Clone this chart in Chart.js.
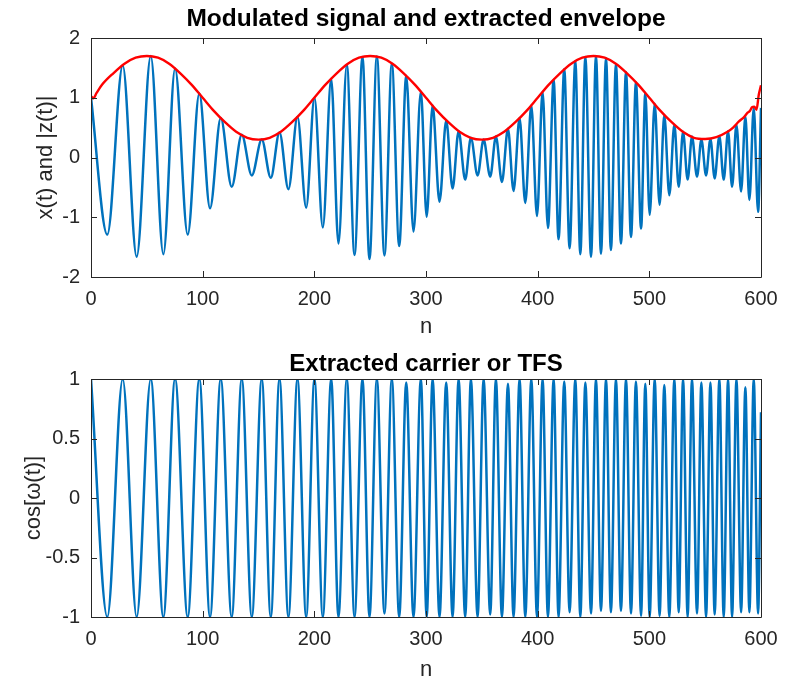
<!DOCTYPE html>
<html>
<head>
<meta charset="utf-8">
<script src="https://cdn.jsdelivr.net/npm/chart.js@4.4.1/dist/chart.umd.min.js"></script>
<style>
  html, body { margin: 0; padding: 0; background: #fff; }
  body { width: 795px; height: 679px; position: relative; overflow: hidden; }
  .panel { position: absolute; left: 0; }
</style>
</head>
<body>
<div class="panel" style="top:0"><canvas id="topChart" width="795" height="340"></canvas></div>
<div class="panel" style="top:340px"><canvas id="botChart" width="795" height="339"></canvas></div>
<script>
// ----- Data -----
// sample positions (n) of the carrier's peaks and troughs, in order, plus the last sample
const extremaN = [
  0, 14.6, 28.4, 40.9, 53.5, 64.8, 75.3, 86.6, 97, 106.6,
  116.2, 126, 135, 144, 152.9, 161, 168.8, 176.8, 184.9, 192.7,
  200.1, 207.6, 215.1, 221.6, 229.1, 236, 243.1, 249.4, 256, 262.8,
  269.4, 276, 282.3, 288.8, 295.4, 300.6, 305.9, 312.1, 318.1, 323.8,
  329.2, 335.1, 340.2, 346.2, 351.6, 357.5, 362.6, 368, 373.4, 378.4,
  383.8, 388.9, 394.3, 399.4, 404.4, 409.2, 414.3, 418.7, 423.8, 428.6,
  433.7, 438.2, 442.7, 447.8, 452.2, 456.7, 461.2, 465.6, 470.1, 474.6,
  479.1, 483.6, 488, 492.6, 496.4, 500.3, 504.8, 509.2, 513.4, 517.9,
  522.4, 526.3, 530.2, 534.3, 538.2, 542.7, 546.6, 550.8, 554.7, 558.5,
  562.7, 566.6, 570.5, 574.1, 578, 582.2, 586, 589.6, 593.5, 597.4,
  600
];
// x(t) at those positions (top panel)
const signalVal = [
  1.00, -1.29, 1.54, -1.66, 1.70, -1.62, 1.49, -1.29, 1.07, -0.85,
  0.66, -0.49, 0.38, -0.30, 0.30, -0.34, 0.42, -0.53, 0.68, -0.84,
  1.00, -1.17, 1.32, -1.44, 1.55, -1.63, 1.68, -1.70, 1.69, -1.64,
  1.57, -1.48, 1.37, -1.24, 1.10, -0.99, 0.87, -0.74, 0.62, -0.52,
  0.44, -0.37, 0.33, -0.30, 0.30, -0.32, 0.35, -0.41, 0.48, -0.56,
  0.66, -0.76, 0.87, -0.98, 1.10, -1.18, 1.30, -1.37, 1.48, -1.52,
  1.61, -1.62, 1.68, -1.66, 1.70, -1.61, 1.66, -1.55, 1.56, -1.44,
  1.43, -1.33, 1.26, -1.19, 1.08, -0.96, 0.90, -0.79, 0.71, -0.63,
  0.55, -0.49, 0.43, -0.37, 0.35, -0.32, 0.30, -0.30, 0.31, -0.35,
  0.36, -0.37, 0.44, -0.49, 0.55, -0.57, 0.69, -0.71, 0.83, -0.91,
  0.83
];
// cos[w(t)] at those positions (bottom panel)
const carrierVal = [
  1, -1, 1, -1, 1, -1, 1, -1, 1, -1,
  1, -1, 1, -1, 1, -1, 1, -1, 1, -1,
  1, -1, 1, -1, 1, -1, 1, -1, 1, -0.97,
  1, -1, 0.97, -1, 1, -1, 1, -1, 0.97, -1,
  1, -1, 1, -1, 1, -0.98, 1, -1, 0.96, -1,
  1, -1, 1, -1, 1, -1, 1, -1, 0.98, -0.96,
  1, -1, 0.97, -0.97, 1, -0.95, 1, -0.96, 1, -0.95,
  1, -0.97, 0.98, -0.99, 0.96, -1, 1, -0.99, 0.95, -1,
  1, -0.96, 1, -1, 1, -0.97, 0.97, -1, 0.97, -0.98,
  1, -1, 1, -1, 1, -0.96, 0.93, -0.96, 1, -0.97,
  0.72
];
// extracted envelope |z(t)|
const envN = [
  0, 2, 5, 10, 20, 30, 40, 50, 60, 70, 80, 90, 100, 110, 120, 130, 140, 150, 160, 170,
  180, 190, 200, 210, 220, 230, 240, 250, 260, 270, 280, 290, 300, 310, 320, 330, 340, 350, 360, 370,
  380, 390, 400, 410, 420, 430, 440, 450, 460, 470, 480, 490, 500, 510, 520, 530, 540, 550, 560, 570,
  575, 580, 585, 588, 590, 592, 594, 596, 598, 600
];
const envVal = [
  1.03, 0.99, 1.08, 1.22, 1.41, 1.57, 1.67, 1.70, 1.67, 1.57, 1.41, 1.22, 1.00, 0.78, 0.59, 0.43, 0.33, 0.30, 0.33, 0.43,
  0.59, 0.78, 1.00, 1.22, 1.41, 1.57, 1.67, 1.70, 1.67, 1.57, 1.41, 1.22, 1.00, 0.78, 0.59, 0.43, 0.33, 0.30, 0.33, 0.43,
  0.59, 0.78, 1.00, 1.22, 1.41, 1.57, 1.67, 1.70, 1.67, 1.57, 1.41, 1.22, 1.00, 0.78, 0.59, 0.43, 0.33, 0.31, 0.34, 0.43,
  0.50, 0.60, 0.68, 0.75, 0.78, 0.84, 0.85, 0.80, 1.05, 1.21
];
const xTicks = [0, 100, 200, 300, 400, 500, 600];
const topYTicks = [-2, -1, 0, 1, 2];
const botYTicks = [-1, -0.5, 0, 0.5, 1];

// ----- Style -----
const FONT = '"Liberation Sans", Arial, Helvetica, sans-serif';
const AXIS_COLOR = '#262626';
const BLUE = '#0072BD';
const RED = '#FF0000';

const pts = (xs, ys) => xs.map((x, i) => ({ x: x, y: ys[i] }));

// MATLAB-like box with inward tick marks
const boxPlugin = {
  id: 'matlabBox',
  afterDatasetsDraw(chart) {
    const { ctx, chartArea: { left, right, top, bottom }, scales: { x, y } } = chart;
    const len = 6;
    ctx.save();
    ctx.strokeStyle = AXIS_COLOR;
    ctx.lineWidth = 1;
    ctx.beginPath();
    ctx.rect(Math.round(left) + 0.5, Math.round(top) + 0.5,
      Math.round(right - left), Math.round(bottom - top));
    x.ticks.forEach((t) => {
      const px = Math.round(x.getPixelForValue(t.value)) + 0.5;
      ctx.moveTo(px, bottom); ctx.lineTo(px, bottom - len);
      ctx.moveTo(px, top); ctx.lineTo(px, top + len);
    });
    y.ticks.forEach((t) => {
      const py = Math.round(y.getPixelForValue(t.value)) + 0.5;
      ctx.moveTo(left, py); ctx.lineTo(left + len, py);
      ctx.moveTo(right, py); ctx.lineTo(right - len, py);
    });
    ctx.stroke();
    ctx.restore();
  }
};

function makeScales(yTicks, yLabel, xBoxHeight, xTickPad, xTitlePad, yTitlePad) {
  return {
    x: {
      type: 'linear',
      min: 0,
      max: 600,
      afterBuildTicks: (s) => { s.ticks = xTicks.map((v) => ({ value: v })); },
      ticks: {
        padding: xTickPad, color: AXIS_COLOR, maxRotation: 0, autoSkip: false,
        font: { family: FONT, size: 20 },
        callback: (v) => String(v)
      },
      grid: { display: false, drawTicks: false },
      border: { display: false },
      title: {
        display: true, text: 'n', color: AXIS_COLOR,
        font: { family: FONT, size: 22, lineHeight: 0.8 },
        padding: { top: 0, bottom: xTitlePad }
      },
      afterFit: (s) => { s.height = xBoxHeight; s.paddingLeft = 0; s.paddingRight = 0; }
    },
    y: {
      type: 'linear',
      min: yTicks[0],
      max: yTicks[yTicks.length - 1],
      afterBuildTicks: (s) => { s.ticks = yTicks.map((v) => ({ value: v })); },
      ticks: {
        padding: 11, color: AXIS_COLOR, autoSkip: false,
        font: { family: FONT, size: 20 },
        callback: (v) => String(v)
      },
      grid: { display: false, drawTicks: false },
      border: { display: false },
      title: {
        display: true, text: yLabel, color: AXIS_COLOR,
        font: { family: FONT, size: 22, lineHeight: 1 },
        padding: { top: yTitlePad, bottom: 0 }
      },
      afterFit: (s) => { s.width = 91; s.paddingTop = 0; s.paddingBottom = 0; }
    }
  };
}

function baseOptions(title, titleSize, titlePad, scales) {
  return {
    responsive: false,
    animation: false,
    events: [],
    layout: { autoPadding: false, padding: { left: 0, right: 34, top: 0, bottom: 0 } },
    plugins: {
      legend: { display: false },
      tooltip: { enabled: false },
      title: {
        display: true, text: title, color: '#000', fullSize: false,
        font: { family: FONT, size: titleSize, weight: 'bold', lineHeight: 1.2 },
        padding: titlePad
      }
    },
    scales: scales
  };
}

// ----- Top: modulated signal and envelope -----
new Chart(document.getElementById('topChart'), {
  type: 'line',
  data: {
    datasets: [
      {
        label: '|z(t)|',
        data: pts(envN, envVal),
        borderColor: RED, borderWidth: 2.4, pointRadius: 0,
        cubicInterpolationMode: 'monotone', fill: false
      },
      {
        label: 'x(t)',
        data: pts(extremaN, signalVal),
        borderColor: BLUE, borderWidth: 2.5, pointRadius: 0,
        cubicInterpolationMode: 'monotone', fill: false
      }
    ]
  },
  options: baseOptions('Modulated signal and extracted envelope', 24.5, { top: 4.8, bottom: 3.8 },
    makeScales(topYTicks, 'x(t) and |z(t)|', 63, 10.5, 4.7, 35)),
  plugins: [boxPlugin]
});

// ----- Bottom: extracted carrier -----
new Chart(document.getElementById('botChart'), {
  type: 'line',
  data: {
    datasets: [
      {
        label: 'cos[ω(t)]',
        data: pts(extremaN, carrierVal),
        borderColor: BLUE, borderWidth: 2.5, pointRadius: 0,
        cubicInterpolationMode: 'monotone', fill: false
      }
    ]
  },
  options: baseOptions('Extracted carrier or TFS', 24, { top: 9.6, bottom: 0.6 },
    makeScales(botYTicks, 'cos[ω(t)]', 62, 10, 0, 22.5)),
  plugins: [boxPlugin]
});
</script>
</body>
</html>
